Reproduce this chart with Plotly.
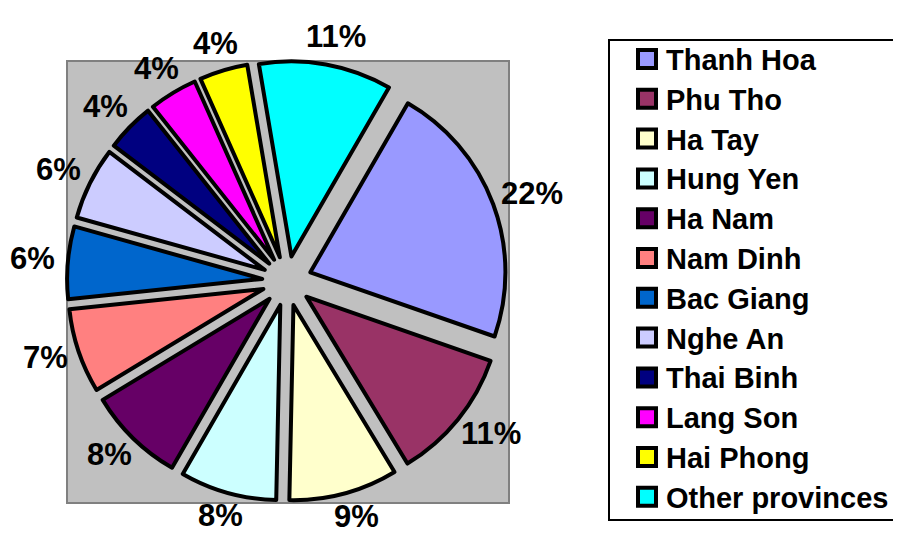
import math
import plotly.graph_objects as go

provinces = ["Thanh Hoa", "Phu Tho", "Ha Tay", "Hung Yen", "Ha Nam", "Nam Dinh",
             "Bac Giang", "Nghe An", "Thai Binh", "Lang Son", "Hai Phong", "Other provinces"]
shares = [22, 11, 9, 8, 8, 7, 6, 6, 4, 4, 4, 11]
colors = ["#9999FF", "#993366", "#FFFFCC", "#CCFFFF", "#660066", "#FF8080",
          "#0066CC", "#CCCCFF", "#000080", "#FF00FF", "#FFFF00", "#00FFFF"]

W, H = 901, 538
OFF = 8  # page body margin
FONT = "Liberation Sans, Arial, sans-serif"
ROTATION = 30

def px(x):
    return (x - OFF) / W

def py(y):
    return 1 - (y - OFF) / H

CX, CY = 287, 281          # pie centre (screen px)
R_OUT = 220                # outer extent of exploded pie
LCX, LCY = 290, 279        # centre of the label ring
LAB_RX, LAB_RY = 258, 246  # label ring radii (Excel-style, outside the slices)

fig = go.Figure()
fig.add_trace(go.Pie(
    labels=provinces,
    values=shares,
    sort=False,
    direction="clockwise",
    rotation=ROTATION,
    pull=0.1275,
    marker=dict(colors=colors, line=dict(color="black", width=4)),
    textinfo="none",
    domain=dict(x=[px(CX - R_OUT), px(CX + R_OUT)], y=[py(CY + R_OUT), py(CY - R_OUT)]),
    showlegend=False,
    hoverinfo="label+percent",
))

shapes = [
    # grey plot area
    dict(type="rect", xref="paper", yref="paper", layer="below",
         x0=px(67), x1=px(509), y0=py(503), y1=py(61),
         fillcolor="#C0C0C0", line=dict(color="#808080", width=2)),
    # legend box
    dict(type="rect", xref="paper", yref="paper",
         x0=px(609), x1=px(898), y0=py(520), y1=py(40),
         fillcolor="white", line=dict(color="black", width=2), layer="below"),
]
annotations = []

# percentage labels at each slice's mid-angle
total = sum(shares)
cum = 0
for v in shares:
    mid = math.radians(ROTATION + 360 * (cum + v / 2) / total)
    cum += v
    lx = LCX + LAB_RX * math.sin(mid)
    ly = LCY - LAB_RY * math.cos(mid)
    annotations.append(dict(xref="paper", yref="paper", x=px(lx), y=py(ly),
                            xanchor="center", yanchor="middle", showarrow=False,
                            text=f"{round(100 * v / total)}%",
                            font=dict(family=FONT, size=31, color="black", weight="bold")))

# legend
for i, (name, col) in enumerate(zip(provinces, colors)):
    cy = 59 + i * 39.8
    shapes.append(dict(type="rect", xref="paper", yref="paper",
                       x0=px(638), x1=px(656), y0=py(cy + 9), y1=py(cy - 9),
                       fillcolor=col, line=dict(color="black", width=4)))
    annotations.append(dict(xref="paper", yref="paper", x=px(664), y=py(cy + 1),
                            xanchor="left", yanchor="middle", showarrow=False,
                            text=name,
                            font=dict(family=FONT, size=29, color="black", weight="bold")))

fig.update_layout(
    width=W, height=H,
    margin=dict(l=0, r=0, t=0, b=0, pad=0, autoexpand=False),
    paper_bgcolor="white",
    plot_bgcolor="white",
    shapes=shapes,
    annotations=annotations,
)

fig.write_html("out.html")
